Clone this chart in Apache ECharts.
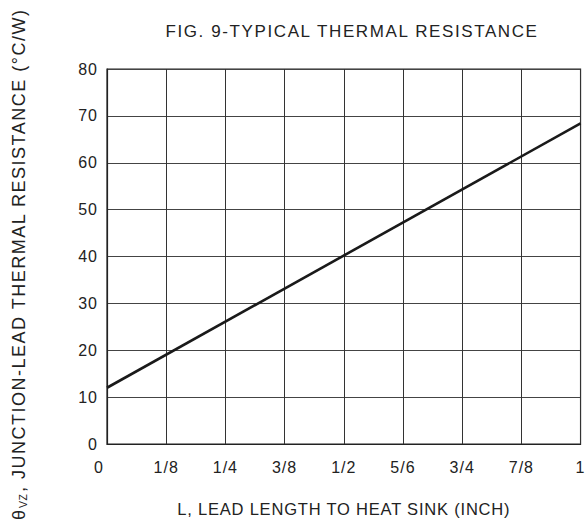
<!DOCTYPE html>
<html>
<head>
<meta charset="utf-8">
<script src="https://cdn.jsdelivr.net/npm/echarts@6/dist/echarts.min.js"></script>
<style>
  html, body { margin: 0; padding: 0; background: #fff; overflow: hidden; }
  #chart { width: 588px; height: 522px; overflow: hidden; }
  #chart svg { display: block; }
  /* Widen the tracking of the printed lettering, keyed on font size */
  #chart text[style*="17px"]   { letter-spacing: 1.6px; }  /* title */
  #chart text[style*="16.5px"] { letter-spacing: 0.8px; }  /* x axis name */
  #chart text[style*="16px"]   { letter-spacing: 1px; }    /* tick labels */
  #chart text[style*="18px"]   { letter-spacing: 1.5px; }  /* y axis name */
  #chart text[style*="10.5px"] { letter-spacing: 0.5px; }  /* subscript */
</style>
</head>
<body>
<div id="chart"></div>
<script>
// Lead length ticks (inch) and their printed labels
const xTickLabels = ['0', '1/8', '1/4', '3/8', '1/2', '5/6', '3/4', '7/8', '1'];
const yTickLabels = ['0', '10', '20', '30', '40', '50', '60', '70', '80'];
// Thermal resistance curve: lead length (inch) vs resistance (°C/W)
const leadLength = [0, 1];
const resistance = [12, 68.4];

const FONT = '"Liberation Sans", Arial, sans-serif';
const INK = '#222';
const chart = echarts.init(document.getElementById('chart'), null, { renderer: 'svg' });

chart.setOption({
  animation: false,
  backgroundColor: '#ffffff',
  title: {
    text: 'FIG. 9-TYPICAL THERMAL RESISTANCE',
    left: 347, top: 18, textAlign: 'center',
    textStyle: { fontFamily: FONT, fontSize: 17, fontWeight: 'normal', color: INK }
  },
  grid: { left: 107, right: 5, top: 69, bottom: 78, show: true, borderColor: INK, borderWidth: 1.2 },
  xAxis: {
    type: 'value', min: 0, max: 1, interval: 0.125,
    name: 'L, LEAD LENGTH TO HEAT SINK (INCH)',
    nameLocation: 'middle', nameGap: 56,
    nameTextStyle: { fontFamily: FONT, fontSize: 16.5, color: INK },
    axisLine: { show: true, lineStyle: { color: INK, width: 1.2 } },
    axisTick: { show: false },
    axisLabel: {
      margin: 15, fontFamily: FONT, fontSize: 16, color: INK,
      // the origin label sits a little left of the corner
      formatter: v => {
        const i = Math.round(v * 8);
        return i === 0 ? '{origin|' + xTickLabels[0] + '}' : xTickLabels[i];
      },
      rich: { origin: { fontFamily: FONT, fontSize: 16, color: INK, padding: [0, 16, 0, 0] } }
    },
    splitLine: { show: true, lineStyle: { color: '#333', width: 1 } }
  },
  yAxis: {
    type: 'value', min: 0, max: 80, interval: 10,
    axisLine: { show: true, lineStyle: { color: INK, width: 1.2 } },
    axisTick: { show: false },
    axisLabel: {
      margin: 9, fontFamily: FONT, fontSize: 16, color: INK,
      formatter: v => yTickLabels[Math.round(v / 10)]
    },
    splitLine: { show: true, lineStyle: { color: '#444', width: 1 } }
  },
  // Vertical axis name, read bottom-to-top, with the VZ subscript
  graphic: [
    { type: 'text', x: 18.5, y: 520, rotation: Math.PI / 2,
      style: { text: 'θ', font: '18px ' + FONT, fill: INK, textAlign: 'left', textVerticalAlign: 'middle' } },
    { type: 'text', x: 23, y: 508, rotation: Math.PI / 2,
      style: { text: 'VZ', font: '10.5px ' + FONT, fill: INK, textAlign: 'left', textVerticalAlign: 'middle' } },
    { type: 'text', x: 18.5, y: 492, rotation: Math.PI / 2,
      style: { text: ', JUNCTION-LEAD THERMAL RESISTANCE (°C/W)', font: '18px ' + FONT, fill: INK, textAlign: 'left', textVerticalAlign: 'middle' } }
  ],
  series: [{
    type: 'line',
    data: leadLength.map((x, i) => [x, resistance[i]]),
    showSymbol: false,
    lineStyle: { color: '#1a1a1a', width: 2.6 }
  }]
});
</script>
</body>
</html>
